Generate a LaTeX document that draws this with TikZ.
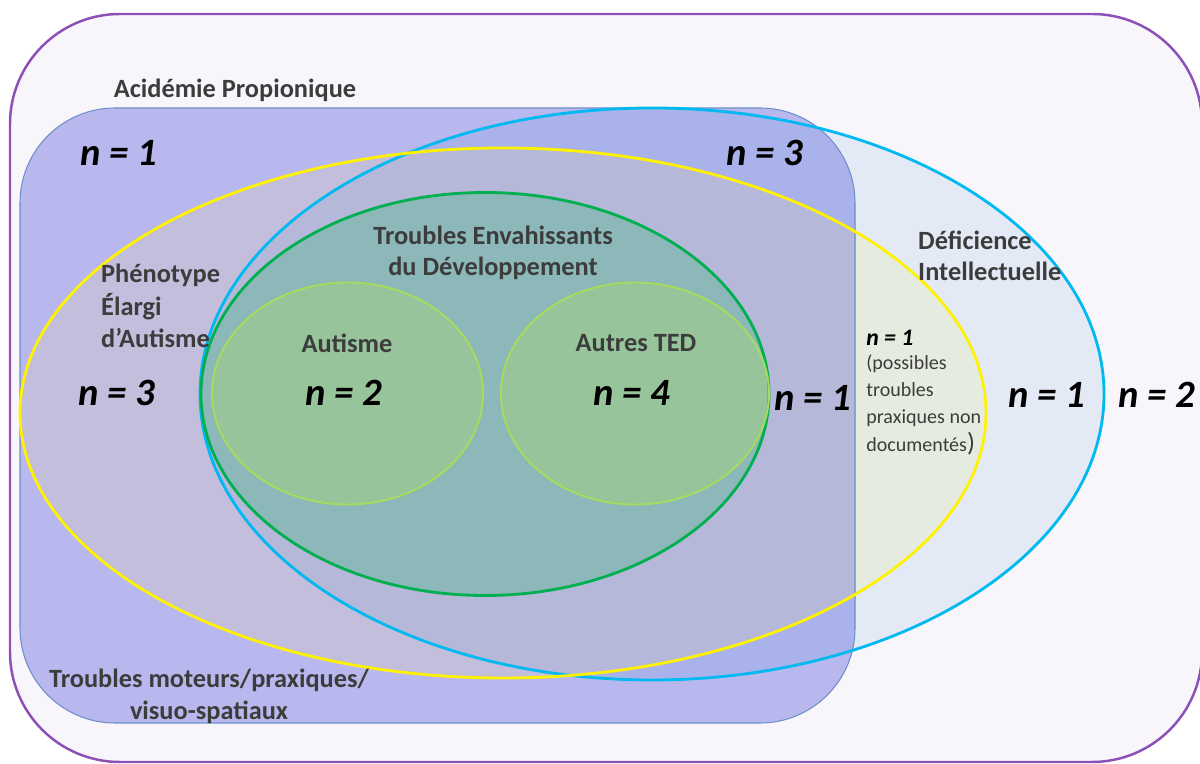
\documentclass[tikz,border=0pt]{standalone}
\usepackage{fontspec}
\setmainfont{Carlito}
\usepackage{xcolor}
\usetikzlibrary{positioning}

\definecolor{bgcol}{HTML}{F8F6FB}
\definecolor{apborder}{HTML}{8B4FB5}
\definecolor{tmfill}{HTML}{B8B8EE}
\definecolor{tmborder}{HTML}{6F8FC8}
\definecolor{tmdifill}{HTML}{A9B2EA}
\definecolor{tmpeafill}{HTML}{C2BEDC}
\definecolor{tmbothfill}{HTML}{B5B8D8}
\definecolor{difill}{HTML}{E3EAF6}
\definecolor{dipeafill}{HTML}{E6EBDF}
\definecolor{tedfill}{HTML}{8CB8BA}
\definecolor{autfill}{HTML}{97C49A}
\definecolor{diline}{HTML}{00B9F1}
\definecolor{pealine}{HTML}{FFF200}
\definecolor{tedline}{HTML}{00B050}
\definecolor{autline}{HTML}{A6DC5E}
\definecolor{labelgray}{HTML}{3C3C3C}

\begin{document}
\begin{tikzpicture}[
            setlabel/.style={font=\bfseries\fontsize{15}{17.5}\selectfont, text=labelgray},
            ncount/.style={font=\bfseries\itshape\fontsize{22}{24}\selectfont},
            smallcount/.style={font=\bfseries\itshape\fontsize{13.5}{15}\selectfont},
            note/.style={font=\fontsize{11.4}{15.4}\selectfont, text=labelgray, align=left, inner sep=0pt}
        ]

        \useasboundingbox (0,0) rectangle (24,15.28);

        % Sets (manual layout to match figure)
        \def\apset{(0.2,0.04) [rounded corners=2.2cm] rectangle (24.04,15.0)}
        \def\tmset{(0.4,0.82) [rounded corners=1.9cm] rectangle (17.1,13.12)}
        \def\diset{(13.04,7.4) ellipse [x radius=9.04cm, y radius=5.72cm]}
        \def\peaset{(10.06,7.02) ellipse [x radius=9.66cm, y radius=5.3cm]}
        \def\tedset{(9.7,7.4) ellipse [x radius=5.68cm, y radius=4.03cm]}
        \def\autset{(6.95,7.41) ellipse [x radius=2.71cm, y radius=2.22cm]}
        \def\atedset{(12.7,7.41) ellipse [x radius=2.68cm, y radius=2.22cm]}

        % Fills
        \fill[bgcol] \apset;
        \fill[difill] \diset;
        \begin{scope}
            \clip \diset;
            \fill[dipeafill] \peaset;
        \end{scope}
        \fill[tmfill] \tmset;
        \begin{scope}
            \clip \tmset;
            \fill[tmdifill] \diset;
            \fill[tmpeafill] \peaset;
            \clip \diset;
            \fill[tmbothfill] \peaset;
        \end{scope}
        \fill[tedfill] \tedset;
        \fill[autfill] \autset;
        \fill[autfill] \atedset;

        % Outlines
        \draw[apborder, line width=1.4pt] \apset;
        \draw[tmborder, line width=0.6pt] \tmset;
        \draw[diline, line width=1.6pt] \diset;
        \draw[pealine, line width=1.6pt] \peaset;
        \draw[tedline, line width=1.6pt] \tedset;
        \draw[autline, line width=1.1pt] \autset;
        \draw[autline, line width=1.1pt] \atedset;

        % Labels
        \node[setlabel] (ap) at (4.7,13.48) {Acidémie Propionique};
        \node[setlabel, align=left, anchor=west, font=\bfseries\fontsize{15}{18.4}\selectfont] (pea) at (1.9,9.16) {Phénotype\\Élargi\\d’Autisme};
        \node[setlabel, align=center] (ted) at (9.86,10.22) {Troubles Envahissants\\du Développement};
        \node[setlabel] (aut) at (6.94,8.42) {Autisme};
        \node[setlabel] (ated) at (12.72,8.42) {Autres TED};
        \node[setlabel, align=left, anchor=west] (di) at (18.24,10.17) {Déficience\\Intellectuelle};
        \node[setlabel, align=center, font=\bfseries\fontsize{15}{18.2}\selectfont] (tm) at (4.18,1.36) {Troubles moteurs/praxiques/\\visuo-spatiaux};

        % Counts
        \node[ncount] (ntm) at (2.38,12.22) {n = 1};
        \node[ncount] (ntmdi) at (15.3,12.22) {n = 3};
        \node[ncount] (npea) at (2.34,7.42) {n = 3};
        \node[ncount] (naut) at (6.88,7.42) {n = 2};
        \node[ncount] (nated) at (12.64,7.42) {n = 4};
        \node[ncount] (ntmpea) at (16.26,7.32) {n = 1};
        \node[ncount] (ndi) at (20.94,7.38) {n = 1};
        \node[ncount] (nap) at (23.14,7.38) {n = 2};

        \node[smallcount, anchor=west, inner sep=0pt] (npr) at (17.32,8.52) {n = 1};
        \node[note, below=5pt of npr.south west, anchor=north west] (pr) {(possibles\\troubles\\praxiques non\\documentés{\fontsize{15}{14}\selectfont)}};

    \end{tikzpicture}
\end{document}
